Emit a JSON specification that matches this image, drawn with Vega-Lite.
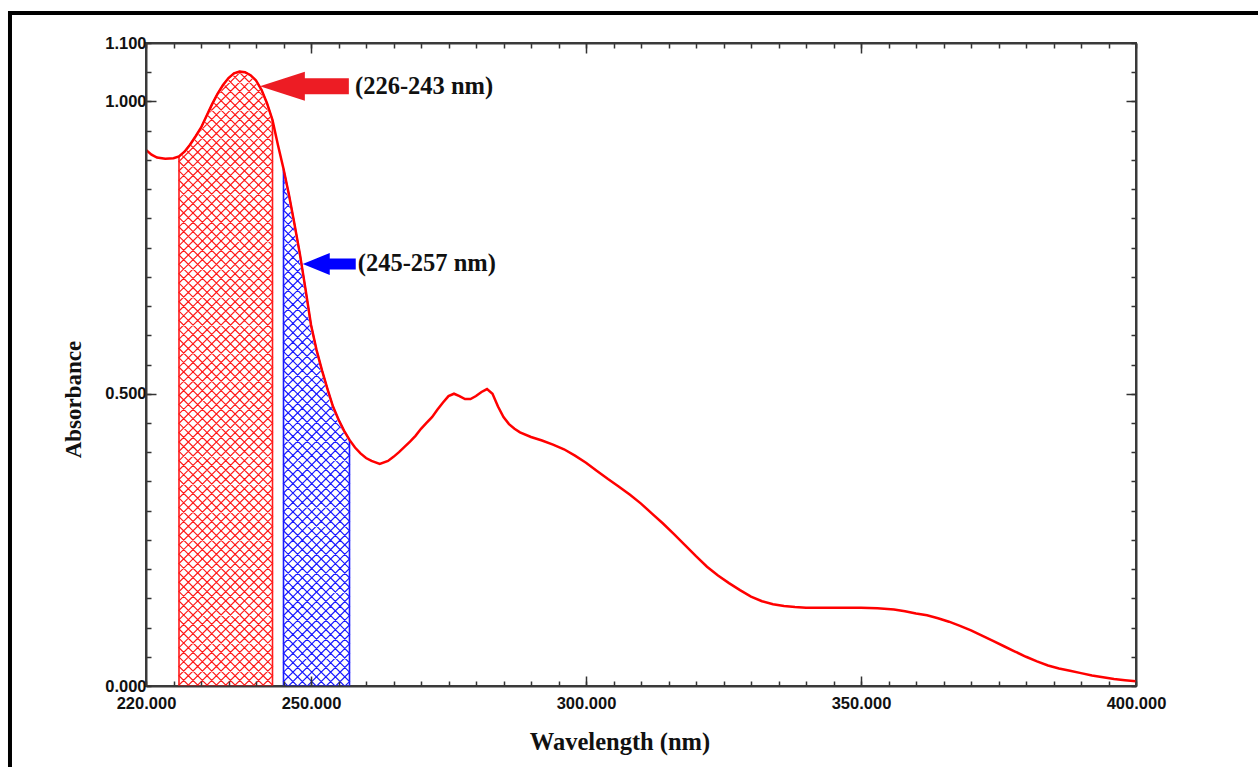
{
  "$schema": "https://vega.github.io/schema/vega-lite/v6.json",
  "autosize": "none",
  "width": 990,
  "height": 643,
  "padding": {"left": 146, "top": 43, "right": 122, "bottom": 81},
  "background": "white",
  "datasets": {
    "spec": [
      {"wl":220,"A":0.917},{"wl":221,"A":0.909},{"wl":222,"A":0.904},{"wl":223.5,"A":0.902},{"wl":225,"A":0.903},
      {"wl":226,"A":0.906},{"wl":227,"A":0.914},{"wl":228,"A":0.926},{"wl":229,"A":0.940},{"wl":230,"A":0.955},
      {"wl":231,"A":0.975},{"wl":232,"A":0.995},{"wl":233,"A":1.013},{"wl":234,"A":1.028},{"wl":235,"A":1.040},
      {"wl":236,"A":1.048},{"wl":237,"A":1.051},{"wl":238,"A":1.050},{"wl":239,"A":1.045},{"wl":240,"A":1.036},
      {"wl":241,"A":1.020},{"wl":242,"A":0.997},{"wl":243,"A":0.968},{"wl":244,"A":0.925},{"wl":245,"A":0.885},
      {"wl":246,"A":0.840},{"wl":247,"A":0.790},{"wl":248,"A":0.738},{"wl":249,"A":0.679},{"wl":250,"A":0.618},
      {"wl":251,"A":0.575},{"wl":252,"A":0.540},{"wl":253,"A":0.508},{"wl":254,"A":0.478},{"wl":255,"A":0.456},
      {"wl":256,"A":0.437},{"wl":257,"A":0.421},{"wl":258,"A":0.408},{"wl":259,"A":0.398},{"wl":260,"A":0.390},
      {"wl":261,"A":0.385},{"wl":262.5,"A":0.380},{"wl":264,"A":0.385},{"wl":265,"A":0.392},{"wl":266,"A":0.400},
      {"wl":267,"A":0.409},{"wl":268,"A":0.418},{"wl":269,"A":0.428},{"wl":270,"A":0.440},{"wl":271,"A":0.450},
      {"wl":272,"A":0.460},{"wl":273,"A":0.473},{"wl":274,"A":0.485},{"wl":275,"A":0.496},{"wl":276,"A":0.500},
      {"wl":277,"A":0.496},{"wl":278,"A":0.491},{"wl":279,"A":0.491},{"wl":280,"A":0.496},{"wl":281,"A":0.503},
      {"wl":282,"A":0.508},{"wl":283,"A":0.500},{"wl":284,"A":0.478},{"wl":285,"A":0.460},{"wl":286,"A":0.448},
      {"wl":287,"A":0.440},{"wl":288,"A":0.434},{"wl":290,"A":0.426},{"wl":292,"A":0.420},{"wl":294,"A":0.413},
      {"wl":296,"A":0.405},{"wl":298,"A":0.394},{"wl":300,"A":0.382},{"wl":302,"A":0.368},{"wl":304,"A":0.354},
      {"wl":306,"A":0.341},{"wl":308,"A":0.327},{"wl":310,"A":0.312},{"wl":312,"A":0.295},{"wl":314,"A":0.278},
      {"wl":316,"A":0.260},{"wl":318,"A":0.241},{"wl":320,"A":0.222},{"wl":322,"A":0.204},{"wl":324,"A":0.189},
      {"wl":326,"A":0.176},{"wl":328,"A":0.164},{"wl":330,"A":0.153},{"wl":332,"A":0.145},{"wl":334,"A":0.140},
      {"wl":336,"A":0.137},{"wl":338,"A":0.135},{"wl":340,"A":0.134},{"wl":345,"A":0.134},{"wl":350,"A":0.134},
      {"wl":353,"A":0.133},{"wl":356,"A":0.131},{"wl":358,"A":0.128},{"wl":360,"A":0.124},{"wl":362,"A":0.121},
      {"wl":364,"A":0.116},{"wl":366,"A":0.110},{"wl":368,"A":0.103},{"wl":370,"A":0.095},{"wl":372,"A":0.086},
      {"wl":374,"A":0.077},{"wl":376,"A":0.068},{"wl":378,"A":0.059},{"wl":380,"A":0.050},{"wl":382,"A":0.042},
      {"wl":384,"A":0.035},{"wl":386,"A":0.030},{"wl":388,"A":0.026},{"wl":390,"A":0.022},{"wl":392,"A":0.018},
      {"wl":394,"A":0.015},{"wl":396,"A":0.012},{"wl":398,"A":0.010},{"wl":400,"A":0.008}
    ],
    "one": [{}]
  },
  "layer": [
    {
      "data": {"name": "one"},
      "mark": {"type": "rect", "fill": null, "fillOpacity": 0, "stroke": "#000000", "strokeWidth": 4, "clip": false},
      "encoding": {
        "x": {"datum": 195.27, "type": "quantitative", "scale": {"domain": [220, 400], "nice": false, "zero": false}, "axis": null},
        "x2": {"datum": 430},
        "y": {"datum": 1.1513, "type": "quantitative", "scale": {"domain": [0, 1.1], "nice": false, "zero": false}, "axis": null},
        "y2": {"datum": -0.3}
      }
    },
    {
      "data": {"name": "one"},
      "mark": {"type": "point", "filled": false, "opacity": 1, "stroke": "#ff1a1a", "strokeWidth": 1.2, "size": 4, "clip": true,
        "shape": "M0 -805 l93.5 93.5 -93.5 93.5 93.5 93.5 -93.5 93.5 93.5 93.5 -93.5 93.5 93.5 93.5 -93.5 93.5 93.5 93.5 -93.5 93.5 M0 -795.65 l93.5 93.5 -93.5 93.5 93.5 93.5 -93.5 93.5 93.5 93.5 -93.5 93.5 93.5 93.5 -93.5 93.5 93.5 93.5 -93.5 93.5 M0 -786.3 l93.5 93.5 -93.5 93.5 93.5 93.5 -93.5 93.5 93.5 93.5 -93.5 93.5 93.5 93.5 -93.5 93.5 93.5 93.5 -93.5 93.5 M0 -776.95 l93.5 93.5 -93.5 93.5 93.5 93.5 -93.5 93.5 93.5 93.5 -93.5 93.5 93.5 93.5 -93.5 93.5 93.5 93.5 -93.5 93.5 M0 -767.6 l93.5 93.5 -93.5 93.5 93.5 93.5 -93.5 93.5 93.5 93.5 -93.5 93.5 93.5 93.5 -93.5 93.5 93.5 93.5 -93.5 93.5 M0 -758.25 l93.5 93.5 -93.5 93.5 93.5 93.5 -93.5 93.5 93.5 93.5 -93.5 93.5 93.5 93.5 -93.5 93.5 93.5 93.5 -93.5 93.5 M0 -748.9 l93.5 93.5 -93.5 93.5 93.5 93.5 -93.5 93.5 93.5 93.5 -93.5 93.5 93.5 93.5 -93.5 93.5 93.5 93.5 -93.5 93.5 M0 -739.55 l93.5 93.5 -93.5 93.5 93.5 93.5 -93.5 93.5 93.5 93.5 -93.5 93.5 93.5 93.5 -93.5 93.5 93.5 93.5 -93.5 93.5 M0 -730.2 l93.5 93.5 -93.5 93.5 93.5 93.5 -93.5 93.5 93.5 93.5 -93.5 93.5 93.5 93.5 -93.5 93.5 93.5 93.5 -93.5 93.5 M0 -720.85 l93.5 93.5 -93.5 93.5 93.5 93.5 -93.5 93.5 93.5 93.5 -93.5 93.5 93.5 93.5 -93.5 93.5 93.5 93.5 -93.5 93.5 M0 -711.5 l93.5 93.5 -93.5 93.5 93.5 93.5 -93.5 93.5 93.5 93.5 -93.5 93.5 93.5 93.5 -93.5 93.5 93.5 93.5 -93.5 93.5 M0 -702.15 l93.5 93.5 -93.5 93.5 93.5 93.5 -93.5 93.5 93.5 93.5 -93.5 93.5 93.5 93.5 -93.5 93.5 93.5 93.5 -93.5 93.5 M0 -692.8 l93.5 93.5 -93.5 93.5 93.5 93.5 -93.5 93.5 93.5 93.5 -93.5 93.5 93.5 93.5 -93.5 93.5 93.5 93.5 -93.5 93.5 M0 -683.45 l93.5 93.5 -93.5 93.5 93.5 93.5 -93.5 93.5 93.5 93.5 -93.5 93.5 93.5 93.5 -93.5 93.5 93.5 93.5 -93.5 93.5 M0 -674.1 l93.5 93.5 -93.5 93.5 93.5 93.5 -93.5 93.5 93.5 93.5 -93.5 93.5 93.5 93.5 -93.5 93.5 93.5 93.5 -93.5 93.5 M0 -664.75 l93.5 93.5 -93.5 93.5 93.5 93.5 -93.5 93.5 93.5 93.5 -93.5 93.5 93.5 93.5 -93.5 93.5 93.5 93.5 -93.5 93.5 M0 -655.4 l93.5 93.5 -93.5 93.5 93.5 93.5 -93.5 93.5 93.5 93.5 -93.5 93.5 93.5 93.5 -93.5 93.5 93.5 93.5 -93.5 93.5 M0 -646.05 l93.5 93.5 -93.5 93.5 93.5 93.5 -93.5 93.5 93.5 93.5 -93.5 93.5 93.5 93.5 -93.5 93.5 93.5 93.5 -93.5 93.5 M0 -636.7 l93.5 93.5 -93.5 93.5 93.5 93.5 -93.5 93.5 93.5 93.5 -93.5 93.5 93.5 93.5 -93.5 93.5 93.5 93.5 -93.5 93.5 M0 -627.35 l93.5 93.5 -93.5 93.5 93.5 93.5 -93.5 93.5 93.5 93.5 -93.5 93.5 93.5 93.5 -93.5 93.5 93.5 93.5 -93.5 93.5"},
      "encoding": {
        "x": {"datum": 226, "type": "quantitative", "scale": {"domain": [220, 400], "nice": false, "zero": false}, "axis": null},
        "y": {"datum": 0, "type": "quantitative", "scale": {"domain": [0, 1.1], "nice": false, "zero": false}, "axis": null}
      }
    },
    {
      "data": {"name": "one"},
      "mark": {"type": "point", "filled": false, "opacity": 1, "stroke": "#1a1aff", "strokeWidth": 1.2, "size": 4, "clip": true,
        "shape": "M0 -655 l66 66 -66 66 66 66 -66 66 66 66 -66 66 66 66 -66 66 66 66 -66 66 66 66 -66 66 M0 -645.57 l66 66 -66 66 66 66 -66 66 66 66 -66 66 66 66 -66 66 66 66 -66 66 66 66 -66 66 M0 -636.14 l66 66 -66 66 66 66 -66 66 66 66 -66 66 66 66 -66 66 66 66 -66 66 66 66 -66 66 M0 -626.71 l66 66 -66 66 66 66 -66 66 66 66 -66 66 66 66 -66 66 66 66 -66 66 66 66 -66 66 M0 -617.29 l66 66 -66 66 66 66 -66 66 66 66 -66 66 66 66 -66 66 66 66 -66 66 66 66 -66 66 M0 -607.86 l66 66 -66 66 66 66 -66 66 66 66 -66 66 66 66 -66 66 66 66 -66 66 66 66 -66 66 M0 -598.43 l66 66 -66 66 66 66 -66 66 66 66 -66 66 66 66 -66 66 66 66 -66 66 66 66 -66 66 M0 -589 l66 66 -66 66 66 66 -66 66 66 66 -66 66 66 66 -66 66 66 66 -66 66 66 66 -66 66 M0 -579.57 l66 66 -66 66 66 66 -66 66 66 66 -66 66 66 66 -66 66 66 66 -66 66 66 66 -66 66 M0 -570.14 l66 66 -66 66 66 66 -66 66 66 66 -66 66 66 66 -66 66 66 66 -66 66 66 66 -66 66 M0 -560.71 l66 66 -66 66 66 66 -66 66 66 66 -66 66 66 66 -66 66 66 66 -66 66 66 66 -66 66 M0 -551.29 l66 66 -66 66 66 66 -66 66 66 66 -66 66 66 66 -66 66 66 66 -66 66 66 66 -66 66 M0 -541.86 l66 66 -66 66 66 66 -66 66 66 66 -66 66 66 66 -66 66 66 66 -66 66 66 66 -66 66 M0 -532.43 l66 66 -66 66 66 66 -66 66 66 66 -66 66 66 66 -66 66 66 66 -66 66 66 66 -66 66"},
      "encoding": {
        "x": {"datum": 245, "type": "quantitative", "scale": {"domain": [220, 400], "nice": false, "zero": false}, "axis": null},
        "y": {"datum": 0, "type": "quantitative", "scale": {"domain": [0, 1.1], "nice": false, "zero": false}, "axis": null}
      }
    },
    {
      "data": {"name": "spec"},
      "transform": [{"filter": "datum.wl >= 226 && datum.wl <= 257"}],
      "mark": {"type": "area", "fill": "white", "opacity": 1, "stroke": "white", "strokeWidth": 3, "clip": true},
      "encoding": {
        "x": {"field": "wl", "type": "quantitative", "scale": {"domain": [220, 400], "nice": false, "zero": false},
          "axis": {"orient": "top", "zindex": 1, "values": [220,225,230,235,240,245,250,255,260,265,270,275,280,285,290,295,300,305,310,315,320,325,330,335,340,345,350,355,360,365,370,375,380,385,390,395,400], "tickSize": -5, "labels": false, "title": null, "domain": true}},
        "y": {"field": "A", "type": "quantitative", "scale": {"domain": [0, 1.1], "nice": false, "zero": false},
          "axis": {"orient": "right", "zindex": 1, "values": [0,0.05,0.1,0.15,0.2,0.25,0.3,0.35,0.4,0.45,0.5,0.55,0.6,0.65,0.7,0.75,0.8,0.85,0.9,0.95,1,1.05,1.1], "tickSize": -5, "labels": false, "title": null, "domain": true}},
        "y2": {"datum": 1.1}
      }
    },
    {
      "data": {"name": "spec"},
      "transform": [{"filter": "datum.wl >= 226 && datum.wl <= 243"}],
      "mark": {"type": "area", "fillOpacity": 0, "stroke": "#ff1a1a", "strokeWidth": 1.6, "clip": false},
      "encoding": {
        "x": {"field": "wl", "type": "quantitative", "scale": {"domain": [220, 400], "nice": false, "zero": false},
          "axis": {"orient": "bottom", "zindex": 1, "values": [250, 300, 350], "tickSize": -10, "labels": false, "title": null}},
        "y": {"field": "A", "type": "quantitative", "scale": {"domain": [0, 1.1], "nice": false, "zero": false},
          "axis": {"orient": "left", "zindex": 1, "values": [0.5, 1], "tickSize": -10, "labels": false, "title": null}},
        "y2": {"datum": 0}
      }
    },
    {
      "data": {"name": "spec"},
      "transform": [{"filter": "datum.wl >= 245 && datum.wl <= 257"}],
      "mark": {"type": "area", "fillOpacity": 0, "stroke": "#1a1aff", "strokeWidth": 1.6, "clip": false},
      "encoding": {
        "x": {"field": "wl", "type": "quantitative", "scale": {"domain": [220, 400], "nice": false, "zero": false},
          "axis": {"orient": "top", "zindex": 1, "values": [250, 300, 350], "tickSize": -10, "labels": false, "title": null}},
        "y": {"field": "A", "type": "quantitative", "scale": {"domain": [0, 1.1], "nice": false, "zero": false},
          "axis": {"orient": "right", "zindex": 1, "values": [0.5, 1], "tickSize": -10, "labels": false, "title": null}},
        "y2": {"datum": 0}
      }
    },
    {
      "data": {"name": "spec"},
      "mark": {"type": "line", "stroke": "#ff0000", "strokeWidth": 2.5, "clip": true},
      "encoding": {
        "x": {"field": "wl", "type": "quantitative", "scale": {"domain": [220, 400], "nice": false, "zero": false},
          "axis": {"orient": "bottom", "zindex": 1, "domain": true, "values": [220,225,230,235,240,245,250,255,260,265,270,275,280,285,290,295,300,305,310,315,320,325,330,335,340,345,350,355,360,365,370,375,380,385,390,395,400],
            "tickSize": -5, "labelPadding": 14, "labelBaseline": "top",
            "labelExpr": "indexof([220,250,300,350,400], datum.value) >= 0 ? format(datum.value, '.3f') : ''",
            "title": "Wavelength (nm)", "titleFontSize": 24.5, "titleX": 473.5, "titleY": 56, "titleAlign": "center", "titleBaseline": "middle", "titleAnchor": null}},
        "y": {"field": "A", "type": "quantitative", "scale": {"domain": [0, 1.1], "nice": false, "zero": false},
          "axis": {"orient": "left", "zindex": 1, "domain": true, "values": [0,0.05,0.1,0.15,0.2,0.25,0.3,0.35,0.4,0.45,0.5,0.55,0.6,0.65,0.7,0.75,0.8,0.85,0.9,0.95,1,1.05,1.1],
            "tickSize": -5, "labelPadding": 5,
            "labelExpr": "indexof([0,0.5,1,1.1], datum.value) >= 0 ? format(datum.value, '.3f') : ''",
            "title": "Absorbance", "titleFontSize": 23, "titleX": -73, "titleY": 356, "titleAngle": -90, "titleAlign": "center", "titleBaseline": "middle", "titleAnchor": null}}
      }
    },
    {
      "data": {"name": "one"},
      "mark": {"type": "point", "filled": true, "opacity": 1, "fill": "#ed1c24", "strokeWidth": 0, "size": 4, "clip": false,
        "shape": "M0 0L45 -14.5L45 -8L89 -8L89 8L45 8L45 14.5Z"},
      "encoding": {
        "x": {"datum": 240.7, "type": "quantitative", "scale": {"domain": [220, 400], "nice": false, "zero": false}, "axis": null},
        "y": {"datum": 1.026, "type": "quantitative", "scale": {"domain": [0, 1.1], "nice": false, "zero": false}, "axis": null}
      }
    },
    {
      "data": {"name": "one"},
      "mark": {"type": "point", "filled": true, "opacity": 1, "fill": "#0000ff", "strokeWidth": 0, "size": 4, "clip": false,
        "shape": "M0 0L27 -11L27 -5.5L53 -5.5L53 5.5L27 5.5L27 11Z"},
      "encoding": {
        "x": {"datum": 248.5, "type": "quantitative", "scale": {"domain": [220, 400], "nice": false, "zero": false}, "axis": null},
        "y": {"datum": 0.722, "type": "quantitative", "scale": {"domain": [0, 1.1], "nice": false, "zero": false}, "axis": null}
      }
    },
    {
      "data": {"name": "one"},
      "mark": {"type": "text", "text": "(226-243 nm)", "font": "Liberation Serif", "fontWeight": "bold", "fontSize": 24.5, "align": "left", "baseline": "middle", "color": "#111111", "clip": false},
      "encoding": {
        "x": {"datum": 258.0, "type": "quantitative", "scale": {"domain": [220, 400], "nice": false, "zero": false}, "axis": null},
        "y": {"datum": 1.025, "type": "quantitative", "scale": {"domain": [0, 1.1], "nice": false, "zero": false}, "axis": null}
      }
    },
    {
      "data": {"name": "one"},
      "mark": {"type": "text", "text": "(245-257 nm)", "font": "Liberation Serif", "fontWeight": "bold", "fontSize": 24.5, "align": "left", "baseline": "middle", "color": "#111111", "clip": false},
      "encoding": {
        "x": {"datum": 258.5, "type": "quantitative", "scale": {"domain": [220, 400], "nice": false, "zero": false}, "axis": null},
        "y": {"datum": 0.722, "type": "quantitative", "scale": {"domain": [0, 1.1], "nice": false, "zero": false}, "axis": null}
      }
    }
  ],
  "resolve": {"axis": {"x": "independent", "y": "independent"}},
  "config": {
    "view": {"stroke": "#3a3a3a", "strokeWidth": 2},
    "axis": {
      "domain": false, "domainColor": "#3a3a3a", "domainWidth": 2, "grid": false,
      "labelFont": "Liberation Sans", "labelFontWeight": "bold", "labelFontSize": 16.5, "labelColor": "#111111",
      "labelFlush": false, "labelOverlap": false,
      "tickColor": "#333333", "tickWidth": 1.5,
      "titleFont": "Liberation Serif", "titleFontWeight": "bold", "titleColor": "#111111"
    }
  }
}
